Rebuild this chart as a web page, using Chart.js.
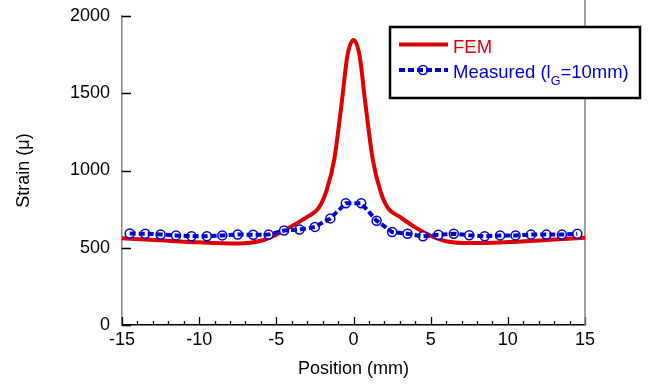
<!DOCTYPE html>
<html>
<head>
<meta charset="utf-8">
<title>Strain vs Position</title>
<script src="https://cdn.jsdelivr.net/npm/chart.js@4.4.1/dist/chart.umd.min.js"></script>
<style>
    html, body { margin: 0; padding: 0; background: #fff; }
    canvas { display: block; }
</style>
</head>
<body>
<canvas id="strainChart" width="651" height="385"></canvas>
<script>
// FEM result (position in mm, strain in micro)
const femPos = [-15, -12.5, -10, -7.5, -6, -5, -4, -3, -2.25, -1.75, -1.25, -0.75, -0.4, 0,
                0.4, 0.75, 1.25, 1.75, 2.25, 3, 4, 5, 6, 7.5, 10, 12.5, 15];
const femStrain = [562, 548, 535, 528, 545, 585, 640, 700, 758, 870, 1070, 1450, 1740, 1845,
                   1740, 1450, 1070, 865, 755, 700, 632, 578, 542, 530, 537, 550, 565];

// Measured (gauge length 10 mm)
const measPos = [-14.5, -13.5, -12.5, -11.5, -10.5, -9.5, -8.5, -7.5, -6.5, -5.5, -4.5, -3.5, -2.5, -1.5, -0.5,
                 0.5, 1.5, 2.5, 3.5, 4.5, 5.5, 6.5, 7.5, 8.5, 9.5, 10.5, 11.5, 12.5, 13.5, 14.5];
const measStrain = [592, 591, 586, 580, 574, 574, 580, 586, 584, 585, 612, 618, 635, 690, 788,
                    788, 675, 602, 591, 574, 584, 591, 581, 574, 580, 580, 585, 585, 585, 591];

// Axis ticks
const xTicks = [-15, -10, -5, 0, 5, 10, 15];
const yTicks = [0, 500, 1000, 1500, 2000];

const FONT = "'Liberation Sans', Arial, sans-serif";
const RED = '#dd0000';
const BLUE = '#0000cc';

const toPoints = (xs, ys) => xs.map((x, i) => ({ x: x, y: ys[i] }));

// inward tick marks + right border
const framePlugin = {
    id: 'frame',
    beforeDatasetsDraw(chart) {
        const ctx = chart.ctx;
        const a = chart.chartArea;
        const xs = chart.scales.x, ys = chart.scales.y;
        ctx.save();
        ctx.strokeStyle = '#000';
        ctx.lineWidth = 1.3;
        ctx.beginPath();
        for (let v = Math.ceil(xs.min); v <= xs.max; v++) {
            const px = Math.round(xs.getPixelForValue(v)) + 0.5;
            const len = xTicks.includes(v) ? 8 : 4;
            ctx.moveTo(px, a.bottom);
            ctx.lineTo(px, a.bottom - len);
        }
        yTicks.forEach(v => {
            const py = Math.round(ys.getPixelForValue(v)) + 0.5;
            ctx.moveTo(a.left, py);
            ctx.lineTo(a.left + 9, py);
        });
        ctx.stroke();
        // right border
        ctx.strokeStyle = '#808080';
        ctx.lineWidth = 1.5;
        ctx.beginPath();
        ctx.moveTo(a.right, 0);
        ctx.lineTo(a.right, a.bottom);
        ctx.stroke();
        ctx.restore();
    }
};

// boxed legend with subscript text
const legendPlugin = {
    id: 'boxLegend',
    afterDraw(chart) {
        const ctx = chart.ctx;
        const x0 = 390, y0 = 27, w = 250, h = 71;
        ctx.save();
        ctx.fillStyle = '#fff';
        ctx.fillRect(x0, y0, w, h);
        ctx.strokeStyle = '#000';
        ctx.lineWidth = 2.5;
        ctx.strokeRect(x0, y0, w, h);

        // FEM
        ctx.strokeStyle = RED;
        ctx.lineWidth = 4;
        ctx.beginPath();
        ctx.moveTo(399, 44.5);
        ctx.lineTo(448, 44.5);
        ctx.stroke();
        ctx.font = '18.5px ' + FONT;
        ctx.fillStyle = RED;
        ctx.textBaseline = 'alphabetic';
        ctx.fillText('FEM', 453, 53);

        // Measured
        ctx.beginPath();
        ctx.arc(423, 70, 4.5, 0, Math.PI * 2);
        ctx.fillStyle = '#fff';
        ctx.fill();
        ctx.strokeStyle = BLUE;
        ctx.lineWidth = 1.5;
        ctx.stroke();
        ctx.setLineDash([6, 3]);
        ctx.lineWidth = 4;
        ctx.beginPath();
        ctx.moveTo(399, 70);
        ctx.lineTo(448, 70);
        ctx.stroke();
        ctx.setLineDash([]);

        ctx.fillStyle = BLUE;
        let tx = 453;
        ctx.font = '18.5px ' + FONT;
        ctx.fillText('Measured (l', tx, 78);
        tx += ctx.measureText('Measured (l').width;
        ctx.font = '12.5px ' + FONT;
        ctx.fillText('G', tx, 85);
        tx += ctx.measureText('G').width;
        ctx.font = '18.5px ' + FONT;
        ctx.fillText('=10mm)', tx, 78);
        ctx.restore();
    }
};

const ctx = document.getElementById('strainChart').getContext('2d');
const strainChart = new Chart(ctx, {
    type: 'line',
    data: {
        datasets: [
            {
                label: 'Measured line',
                data: toPoints(measPos, measStrain),
                borderColor: BLUE,
                borderWidth: 4,
                borderDash: [6, 3],
                pointRadius: 0,
                tension: 0,
                order: 0
            },
            {
                label: 'Measured',
                data: toPoints(measPos, measStrain),
                showLine: false,
                pointRadius: 4.5,
                pointBorderWidth: 1.5,
                pointBorderColor: BLUE,
                pointBackgroundColor: '#fff',
                order: 1
            },
            {
                label: 'FEM',
                data: toPoints(femPos, femStrain),
                borderColor: RED,
                borderWidth: 4,
                pointRadius: 0,
                cubicInterpolationMode: 'monotone',
                order: 2
            }
        ]
    },
    options: {
        responsive: false,
        animation: false,
        layout: { padding: { top: 16, right: 66, left: 0, bottom: 0 } },
        plugins: {
            legend: { display: false },
            tooltip: { enabled: false }
        },
        scales: {
            x: {
                type: 'linear',
                min: -15,
                max: 15,
                afterBuildTicks: scale => { scale.ticks = xTicks.map(v => ({ value: v })); },
                afterFit: scale => {
                    scale.height = 60;
                    scale.paddingLeft = 0; scale.paddingRight = 0;
                },
                grid: { display: false, drawTicks: false },
                border: { display: true, color: '#000', width: 1.5 },
                ticks: { color: '#000', padding: 4, maxRotation: 0, font: { family: FONT, size: 18 },
                         callback: v => String(v) },
                title: { display: true, text: 'Position (mm)', color: '#000', padding: { top: 0, bottom: 5 }, font: { family: FONT, size: 18 } }
            },
            y: {
                min: 0,
                max: 2000,
                afterBuildTicks: scale => { scale.ticks = yTicks.map(v => ({ value: v })); },
                afterFit: scale => {
                    scale.width = 122;
                    scale.paddingTop = 0; scale.paddingBottom = 0;
                },
                grid: { display: false, drawTicks: false },
                border: { display: true, color: '#808080', width: 1.5 },
                ticks: { color: '#000', padding: 12, font: { family: FONT, size: 18 },
                         callback: v => String(v) },
                title: { display: true, text: 'Strain (μ)', color: '#000', padding: { top: 13, bottom: 0 }, font: { family: FONT, size: 18 } }
            }
        }
    },
    plugins: [framePlugin, legendPlugin]
});
</script>
</body>
</html>
